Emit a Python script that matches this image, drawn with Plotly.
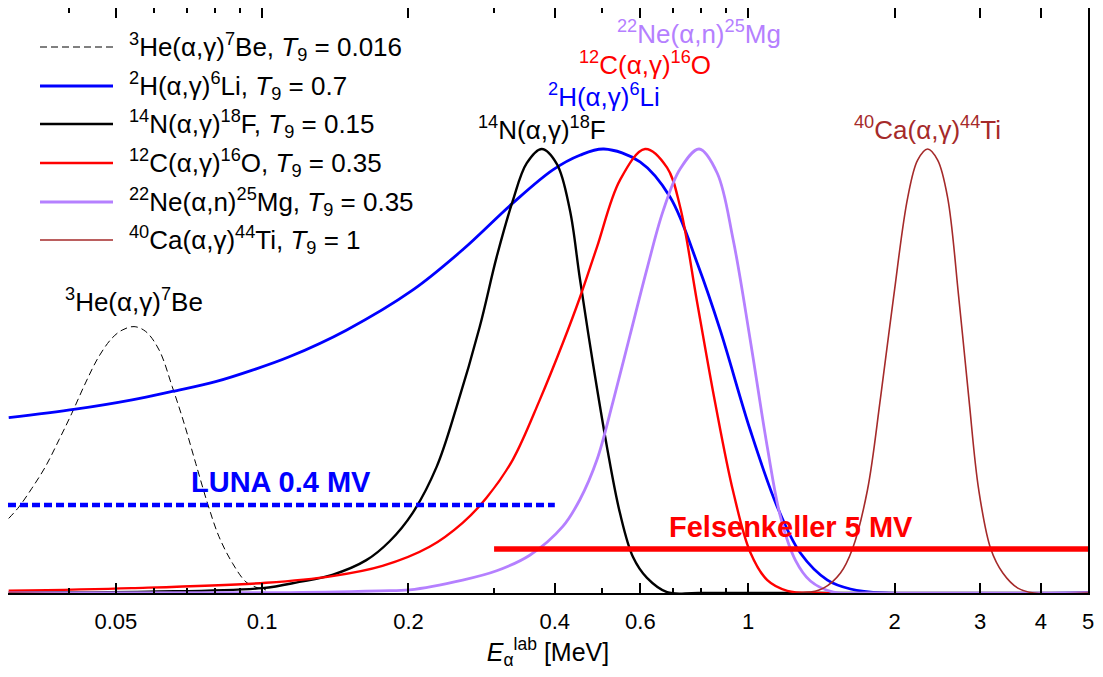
import numpy as np
import plotly.graph_objects as go

# ---------------- data ----------------
he3_E = [0.0301, 0.0316, 0.0336, 0.0358, 0.0382, 0.0406, 0.0433, 0.0461, 0.0491, 0.0515,
         0.0545, 0.0576, 0.0614, 0.0653, 0.0691, 0.0730, 0.0772, 0.0815, 0.0869, 0.0926,
         0.0971, 0.1018]
he3_y = [0.168, 0.194, 0.236, 0.284, 0.345, 0.405, 0.473, 0.532, 0.574, 0.592,
         0.600, 0.589, 0.547, 0.465, 0.382, 0.292, 0.202, 0.127, 0.067, 0.025,
         0.013, 0.007]

h2_E = [0.0301, 0.0413, 0.0540, 0.0653, 0.0802, 0.0955, 0.1137, 0.1490, 0.2039, 0.2585,
        0.3277, 0.3963, 0.4503, 0.5047, 0.5989, 0.6905, 0.7889, 0.8757,
        1.0095, 1.1475, 1.2800, 1.4553, 1.6231, 1.8982, 5.0]
h2_y = [0.395, 0.414, 0.435, 0.454, 0.476, 0.502, 0.532, 0.592, 0.682, 0.773,
        0.878, 0.953, 0.986, 1.000, 0.971, 0.892, 0.737, 0.592,
        0.367, 0.194, 0.090, 0.029, 0.009, 0.000, 0.000]

n14_E = [0.0301, 0.0585, 0.1000, 0.1192, 0.1394, 0.1638, 0.1827, 0.2039, 0.2285,
         0.2512, 0.2802, 0.3037, 0.3277, 0.3502, 0.3760, 0.4040, 0.4295, 0.4503,
         0.4791, 0.5121, 0.5446, 0.5793, 0.6190, 0.6808, 0.796, 5.0]
n14_y = [0.001, 0.003, 0.011, 0.025, 0.041, 0.074, 0.116, 0.180, 0.284,
         0.419, 0.599, 0.757, 0.883, 0.968, 1.000, 0.966, 0.863, 0.709,
         0.518, 0.329, 0.180, 0.081, 0.034, 0.002, 0.000, 0.000]

c12_E = [0.0301, 0.0539, 0.1019, 0.1394, 0.1768, 0.2210, 0.2585, 0.2897, 0.3277,
         0.3725, 0.4155, 0.4503, 0.4884, 0.5446, 0.6133, 0.6808, 0.7241, 0.7849,
         0.8551, 0.9313, 1.0095, 1.0944, 1.2036, 1.4078, 5.0]
c12_y = [0.005, 0.011, 0.023, 0.038, 0.061, 0.104, 0.158, 0.215, 0.300,
         0.435, 0.563, 0.665, 0.779, 0.930, 1.000, 0.958, 0.870, 0.655,
         0.428, 0.228, 0.092, 0.029, 0.005, 0.000, 0.000]

ne22_E = [0.0301, 0.1084, 0.1743, 0.2010, 0.2585, 0.3037, 0.3552, 0.4155,
          0.4503, 0.4884, 0.5267, 0.5710, 0.6190, 0.6679, 0.7241, 0.7925, 0.8631,
          0.9313, 1.0095, 1.0944, 1.1641, 1.2500, 1.3425, 1.4969, 1.7847, 5.0]
ne22_y = [0.000, 0.001, 0.005, 0.007, 0.029, 0.050, 0.085, 0.150,
          0.210, 0.300, 0.430, 0.580, 0.730, 0.860, 0.955, 1.000, 0.946,
          0.795, 0.570, 0.329, 0.173, 0.074, 0.027, 0.002, 0.000, 0.000]

ca40_E = [0.0301, 1.280, 1.428, 1.548, 1.638, 1.759, 1.872, 1.991, 2.128, 2.231, 2.339,
          2.453, 2.572, 2.710, 2.842, 2.980, 3.155, 3.340, 3.586, 3.870, 5.0]
ca40_y = [0.000, 0.000, 0.011, 0.045, 0.099, 0.232, 0.441, 0.667, 0.890, 0.975, 1.000,
          0.975, 0.890, 0.667, 0.441, 0.232, 0.099, 0.045, 0.011, 0.000, 0.000]

luna_E = [0.03, 0.40]
luna_y = [0.198, 0.198]
felsen_E = [0.30, 5.0]
felsen_y = [0.099, 0.099]

tick_vals = [0.05, 0.1, 0.2, 0.4, 0.6, 1, 2, 3, 4, 5]
tick_text = ["0.05", "0.1", "0.2", "0.4", "0.6", "1", "2", "3", "4", "5"]
minor_vals = [0.04, 0.06, 0.07, 0.08, 0.09, 0.3, 0.5, 0.7, 0.8, 0.9]

legend_text = [
    "<sup>3</sup>He(α,γ)<sup>7</sup>Be, <i>T</i><sub>9</sub> = 0.016",
    "<sup>2</sup>H(α,γ)<sup>6</sup>Li, <i>T</i><sub>9</sub> = 0.7",
    "<sup>14</sup>N(α,γ)<sup>18</sup>F, <i>T</i><sub>9</sub> = 0.15",
    "<sup>12</sup>C(α,γ)<sup>16</sup>O, <i>T</i><sub>9</sub> = 0.35",
    "<sup>22</sup>Ne(α,n)<sup>25</sup>Mg, <i>T</i><sub>9</sub> = 0.35",
    "<sup>40</sup>Ca(α,γ)<sup>44</sup>Ti, <i>T</i><sub>9</sub> = 1",
]
peak_text = [
    "<sup>3</sup>He(α,γ)<sup>7</sup>Be",
    "<sup>2</sup>H(α,γ)<sup>6</sup>Li",
    "<sup>14</sup>N(α,γ)<sup>18</sup>F",
    "<sup>12</sup>C(α,γ)<sup>16</sup>O",
    "<sup>22</sup>Ne(α,n)<sup>25</sup>Mg",
    "<sup>40</sup>Ca(α,γ)<sup>44</sup>Ti",
]

# ---------------- styles ----------------
BLACK = "#000000"
BLUE = "#0000FF"
RED = "#FF0000"
PURPLE = "#B580FF"
BROWN = "#A52A2A"
FONT = "Liberation Sans, Arial, Helvetica, sans-serif"

series = [
    (he3_E, he3_y, BLACK, 1.0, "7px,4px"),
    (h2_E, h2_y, BLUE, 2.8, "solid"),
    (n14_E, n14_y, BLACK, 2.4, "solid"),
    (c12_E, c12_y, RED, 2.4, "solid"),
    (ne22_E, ne22_y, PURPLE, 2.8, "solid"),
    (ca40_E, ca40_y, BROWN, 1.6, "solid"),
]

fig = go.Figure()
for (E, y, col, w, dash), name in zip(series, legend_text):
    fig.add_trace(go.Scatter(x=E, y=y, mode="lines", name=name, showlegend=False,
                             line=dict(color=col, width=w, dash=dash, shape="spline", smoothing=1.0)))

fig.add_trace(go.Scatter(x=luna_E, y=luna_y, mode="lines", showlegend=False,
                         line=dict(color=BLUE, width=4.5, dash="8px,4px")))
fig.add_trace(go.Scatter(x=felsen_E, y=felsen_y, mode="lines", showlegend=False,
                         line=dict(color=RED, width=5.5)))

# ---------------- layout geometry ----------------
# the page body adds an 8 px offset; plot area spans page x 8..1088, y 8..593
W, H = 1095, 669
L, R, T, B = 0, 15, 0, 84
PX0, PX1, PY0, PY1 = 8, 1088, 8, 593


def px(X):
    return (X - PX0) / (PX1 - PX0)


def py(Y):
    return (PY1 - Y) / (PY1 - PY0)


shapes = []
annotations = []

# legend drawn by hand (long sample lines as in the reference)
leg_rows = [47, 86, 124, 163, 202, 240]
for (E, y, col, w, dash), txt, Y in zip(series, legend_text, leg_rows):
    shapes.append(dict(type="line", xref="paper", yref="paper",
                       x0=px(40), x1=px(113), y0=py(Y), y1=py(Y),
                       line=dict(color=col, width=w, dash=dash)))
    annotations.append(dict(xref="paper", yref="paper", x=px(127), y=py(Y),
                            xanchor="left", yanchor="middle", text=txt, showarrow=False,
                            font=dict(family=FONT, size=26, color="black")))

# peak labels
peak_E = [0.0545, 0.505, 0.376, 0.613, 0.792, 2.339]
peak_Y = [300, 95, 128, 64, 33, 128]
peak_col = [BLACK, BLUE, BLACK, RED, PURPLE, BROWN]
for txt, E, Y, col in zip(peak_text, peak_E, peak_Y, peak_col):
    annotations.append(dict(xref="x", yref="paper", x=np.log10(E), y=py(Y),
                            xanchor="center", yanchor="middle", text=txt, showarrow=False,
                            font=dict(family=FONT, size=26, color=col)))

annotations.append(dict(xref="x", yref="paper", x=np.log10(0.1094), y=py(482),
                        xanchor="center", yanchor="middle", text="<b>LUNA 0.4 MV</b>",
                        showarrow=False, font=dict(family=FONT, size=29, color=BLUE)))
annotations.append(dict(xref="x", yref="paper", x=np.log10(1.2266), y=py(527),
                        xanchor="center", yanchor="middle", text="<b>Felsenkeller 5 MV</b>",
                        showarrow=False, font=dict(family=FONT, size=29, color=RED)))

fig.update_layout(
    width=W, height=H,
    margin=dict(l=L, r=R, t=T, b=B, autoexpand=False),
    plot_bgcolor="white", paper_bgcolor="white",
    font=dict(family=FONT, color="black"),
    shapes=shapes, annotations=annotations,
    showlegend=False,
)
fig.update_xaxes(
    type="log", range=[np.log10(0.03), np.log10(5.0)],
    showgrid=False, zeroline=False,
    showline=True, linecolor="black", linewidth=2, mirror="ticks",
    ticks="inside", ticklen=10, tickwidth=1.5, tickcolor="black",
    tickmode="array", tickvals=tick_vals, ticktext=tick_text,
    tickfont=dict(family=FONT, size=22, color="black"),
    ticklabelstandoff=8,
    minor=dict(tickmode="array", tickvals=minor_vals, ticks="inside", ticklen=5,
               tickwidth=1.5, tickcolor="black", showgrid=False),
    title=dict(text="<i>E</i><sub>α</sub><sup>lab</sup> [MeV]",
               font=dict(family=FONT, size=25, color="black"), standoff=6),
)
fig.update_yaxes(
    range=[0, (PY1 - PY0) / 444.0], showgrid=False, zeroline=False,
    showline=True, linecolor="black", linewidth=2, mirror=True,
    ticks="", showticklabels=False,
)

fig.write_html("out.html")
